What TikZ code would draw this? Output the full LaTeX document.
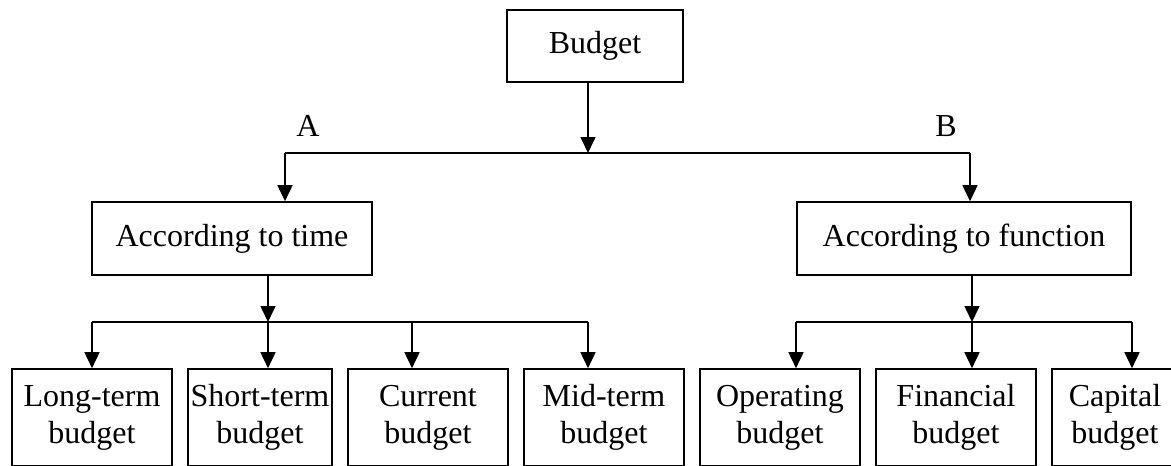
\documentclass[tikz,border=0pt]{standalone}
\usepackage{fontspec}
\setmainfont{Liberation Serif}
\usetikzlibrary{arrows.meta}
\begin{document}
\begin{tikzpicture}[x=1pt,y=-1pt,
  box/.style={draw,line width=1.6pt,inner sep=0pt,align=center,font=\fontsize{32}{37}\selectfont},
  arr/.style={line width=1.6pt,-{Triangle[width=15pt,length=16pt]}},
  ln/.style={line width=1.6pt},
  lbl/.style={inner sep=0pt,font=\fontsize{32}{37}\selectfont}]
\clip (0,0) rectangle (1171,466);
% main nodes
\node[box,minimum width=176pt,minimum height=72pt] (budget) at (595,46) {Budget};
\node[box,minimum width=280pt,minimum height=73pt] (time) at (232,238.5) {According to time};
\node[box,minimum width=334pt,minimum height=73pt] (func) at (964,238.5) {According to function};
% bottom boxes
\node[box,minimum width=160pt,minimum height=97pt] (lt) at (92,417.5) {Long-term\\budget};
\node[box,minimum width=144pt,minimum height=97pt] (st) at (260,417.5) {Short-term\\budget};
\node[box,minimum width=160pt,minimum height=97pt] (cur) at (428,417.5) {Current\\budget};
\node[box,minimum width=160pt,minimum height=97pt] (mid) at (604,417.5) {Mid-term\\budget};
\node[box,minimum width=160pt,minimum height=97pt] (op) at (780,417.5) {Operating\\budget};
\node[box,minimum width=160pt,minimum height=97pt] (fin) at (956,417.5) {Financial\\budget};
\node[box,minimum width=126pt,minimum height=97pt] (cap) at (1115,417.5) {Capital\\budget};
% labels
\node[lbl,anchor=base] (A) at (308,136) {A};
\node[lbl,anchor=base] (B) at (946,136) {B};
% hubs
\coordinate (hub1) at (588,153);
\coordinate (topL) at (285,153);
\coordinate (topR) at (970,153);
\coordinate (hub2) at (268,322);
\coordinate (l1) at (92,322);
\coordinate (l3) at (412,322);
\coordinate (l4) at (588,322);
\coordinate (hub3) at (972,322);
\coordinate (r1) at (796,322);
\coordinate (r3) at (1132,322);
% top level
\draw[arr] (budget.south -| hub1) -- (hub1);
\draw[ln] (topL) -- (topR);
\draw[arr] (topL) -- (topL |- time.north);
\draw[arr] (topR) -- (topR |- func.north);
% left group
\draw[arr] (time.south -| hub2) -- (hub2);
\draw[ln] (l1) -- (l4);
\draw[arr] (l1) -- (l1 |- lt.north);
\draw[arr] (hub2) -- (hub2 |- st.north);
\draw[arr] (l3) -- (l3 |- cur.north);
\draw[arr] (l4) -- (l4 |- mid.north);
% right group
\draw[arr] (func.south -| hub3) -- (hub3);
\draw[ln] (r1) -- (r3);
\draw[arr] (r1) -- (r1 |- op.north);
\draw[arr] (hub3) -- (hub3 |- fin.north);
\draw[arr] (r3) -- (r3 |- cap.north);
\end{tikzpicture}
\end{document}
